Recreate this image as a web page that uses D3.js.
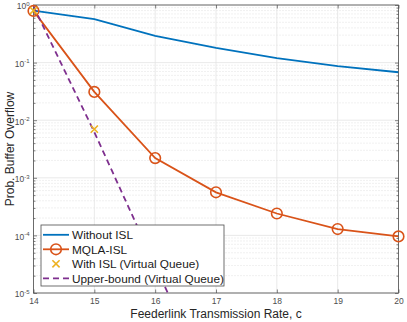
<!DOCTYPE html>
<html><head><meta charset="utf-8">
<script src="https://cdn.jsdelivr.net/npm/d3@7"></script>
<style>body{margin:0;background:#fff;} svg{display:block;font-family:"Liberation Sans",Arial,Helvetica,sans-serif;}</style>
</head><body>
<svg id="chart" width="407" height="322"></svg>
<script>
const rates = [14, 15, 16, 17, 18, 19, 20];
const withoutISL = [0.80, 0.57, 0.29, 0.18, 0.12, 0.087, 0.068];
const mqlaISL = [0.79, 0.031, 0.0022, 0.00056, 0.00024, 0.000129, 0.000096];
const withISLRates = [14, 15];
const withISL = [0.80, 0.0070];
const upperRates = [14, 15, 16, 17];
const upperBound = [0.95, 0.0062, 0.000030, 0.00000015];
const xTicks = [14, 15, 16, 17, 18, 19, 20];
const yTickExps = [0, -1, -2, -3, -4, -5];
const legendLabels = ["Without ISL", "MQLA-ISL", "With ISL (Virtual Queue)", "Upper-bound (Virtual Queue)"];
const colors = ["#0072BD", "#D95319", "#EDB120", "#7E2F8E"];

const L = 33.5, R = 398.5, T = 5, B = 293;
const svg = d3.select("#chart");
const x = d3.scaleLinear().domain([14, 20]).range([L, R]);
const y = d3.scaleLog().domain([1e-5, 1]).range([B, T]);

svg.append("defs").append("clipPath").attr("id", "clip")
  .append("rect").attr("x", L).attr("y", T).attr("width", R - L).attr("height", B - T);

// minor grid (y)
const minorVals = [];
for (let e = -5; e < 0; e++) for (let m = 2; m <= 9; m++) minorVals.push(m * Math.pow(10, e));
svg.append("g").selectAll("line").data(minorVals).join("line")
  .attr("x1", L).attr("x2", R).attr("y1", d => y(d)).attr("y2", d => y(d))
  .attr("stroke", "#cfcfcf").attr("stroke-width", 0.6).attr("stroke-dasharray", "1,2");
// major grid
svg.append("g").selectAll("line").data(yTickExps).join("line")
  .attr("x1", L).attr("x2", R).attr("y1", d => y(Math.pow(10, d))).attr("y2", d => y(Math.pow(10, d)))
  .attr("stroke", "#e3e3e3").attr("stroke-width", 0.8);
svg.append("g").selectAll("line").data(xTicks).join("line")
  .attr("y1", T).attr("y2", B).attr("x1", d => x(d)).attr("x2", d => x(d))
  .attr("stroke", "#e3e3e3").attr("stroke-width", 0.8);

// axes via d3
const axisColor = "#4d4d4d";
function styleAxis(g) {
  g.select(".domain").remove();
  g.selectAll(".tick line").attr("stroke", axisColor).attr("stroke-width", 0.7);
  g.selectAll("text").attr("fill", "#4d4d4d").attr("font-size", "8.5px");
}
svg.append("g").attr("transform", `translate(0,${B})`)
  .call(d3.axisBottom(x).tickValues(xTicks).tickSize(-3.5).tickPadding(5).tickFormat(d3.format("d")))
  .call(styleAxis);
svg.append("g").attr("transform", `translate(0,${T})`)
  .call(d3.axisTop(x).tickValues(xTicks).tickSize(-3.5).tickFormat(""))
  .call(styleAxis);
// y major ticks left with superscript labels
const yl = svg.append("g").attr("transform", `translate(${L},0)`)
  .call(d3.axisLeft(y).tickValues(yTickExps.map(e => Math.pow(10, e))).tickSize(-3.5).tickPadding(4).tickFormat(""))
  .call(styleAxis);
yl.selectAll(".tick").each(function(d) {
  const e = Math.round(Math.log10(d));
  const t = d3.select(this).select("text").attr("x", -4).attr("dy", "0.45em").attr("text-anchor", "end");
  t.text(null);
  t.append("tspan").text("10");
  t.append("tspan").attr("dy", "-0.6em").attr("font-size", "6px").text(String(e));
});
svg.append("g").attr("transform", `translate(${R},0)`)
  .call(d3.axisRight(y).tickValues(yTickExps.map(e => Math.pow(10, e))).tickSize(-3.5).tickFormat(""))
  .call(styleAxis);
// minor ticks left/right
svg.append("g").attr("transform", `translate(${L},0)`)
  .call(d3.axisLeft(y).tickValues(minorVals).tickSize(-2).tickFormat(""))
  .call(styleAxis);
svg.append("g").attr("transform", `translate(${R},0)`)
  .call(d3.axisRight(y).tickValues(minorVals).tickSize(-2).tickFormat(""))
  .call(styleAxis);
// box
svg.append("rect").attr("x", L).attr("y", T).attr("width", R - L).attr("height", B - T)
  .attr("fill", "none").attr("stroke", axisColor).attr("stroke-width", 0.8);

// data
const plot = svg.append("g").attr("clip-path", "url(#clip)");
const line = d3.line().x(d => x(d[0])).y(d => y(d[1]));
plot.append("path").datum(d3.zip(rates, withoutISL)).attr("d", line)
  .attr("fill", "none").attr("stroke", colors[0]).attr("stroke-width", 1.8);
plot.append("path").datum(d3.zip(rates, mqlaISL)).attr("d", line)
  .attr("fill", "none").attr("stroke", colors[1]).attr("stroke-width", 1.8);
svg.append("g").selectAll("circle").data(d3.zip(rates, mqlaISL)).join("circle")
  .attr("cx", d => x(d[0])).attr("cy", d => y(d[1])).attr("r", 5.3)
  .attr("fill", "none").attr("stroke", colors[1]).attr("stroke-width", 1.6);
const xs = 3.6;
svg.append("g").selectAll("path").data(d3.zip(withISLRates, withISL)).join("path")
  .attr("d", d => { const cx = x(d[0]), cy = y(d[1]);
    return `M${cx - xs},${cy - xs}L${cx + xs},${cy + xs}M${cx - xs},${cy + xs}L${cx + xs},${cy - xs}`; })
  .attr("stroke", colors[2]).attr("stroke-width", 1.6).attr("fill", "none");
plot.append("path").datum(d3.zip(upperRates, upperBound)).attr("d", line)
  .attr("fill", "none").attr("stroke", colors[3]).attr("stroke-width", 1.8).attr("stroke-dasharray", "6,4");

// legend
const lg = svg.append("g");
lg.append("rect").attr("x", 41).attr("y", 225).attr("width", 183).attr("height", 61)
  .attr("fill", "#fff").attr("stroke", axisColor).attr("stroke-width", 0.8);
const rowY = [234.8, 249.3, 263.8, 278.3];
legendLabels.forEach((lab, i) => {
  const ry = rowY[i];
  if (i === 0 || i === 1) lg.append("line").attr("x1", 43).attr("x2", 69).attr("y1", ry).attr("y2", ry)
    .attr("stroke", colors[i]).attr("stroke-width", 1.8);
  if (i === 1) lg.append("circle").attr("cx", 56).attr("cy", ry).attr("r", 5.3)
    .attr("fill", "none").attr("stroke", colors[1]).attr("stroke-width", 1.6);
  if (i === 2) lg.append("path").attr("d", `M${56 - xs},${ry - xs}L${56 + xs},${ry + xs}M${56 - xs},${ry + xs}L${56 + xs},${ry - xs}`)
    .attr("stroke", colors[2]).attr("stroke-width", 1.6);
  if (i === 3) lg.append("line").attr("x1", 43).attr("x2", 69).attr("y1", ry).attr("y2", ry)
    .attr("stroke", colors[3]).attr("stroke-width", 1.8).attr("stroke-dasharray", "6,4");
  lg.append("text").attr("x", 72).attr("y", ry).attr("dy", "0.36em").attr("font-size", "11.8px")
    .attr("fill", "#1a1a1a").text(lab);
});

// axis titles
svg.append("text").attr("x", (L + R) / 2).attr("y", 317.5).attr("text-anchor", "middle")
  .attr("font-size", "12px").attr("fill", "#262626").text("Feederlink Transmission Rate, c");
svg.append("text").attr("transform", `translate(14,${(T + B) / 2}) rotate(-90)`).attr("text-anchor", "middle")
  .attr("font-size", "12px").attr("fill", "#262626").text("Prob. Buffer Overflow");
</script>
</body></html>
